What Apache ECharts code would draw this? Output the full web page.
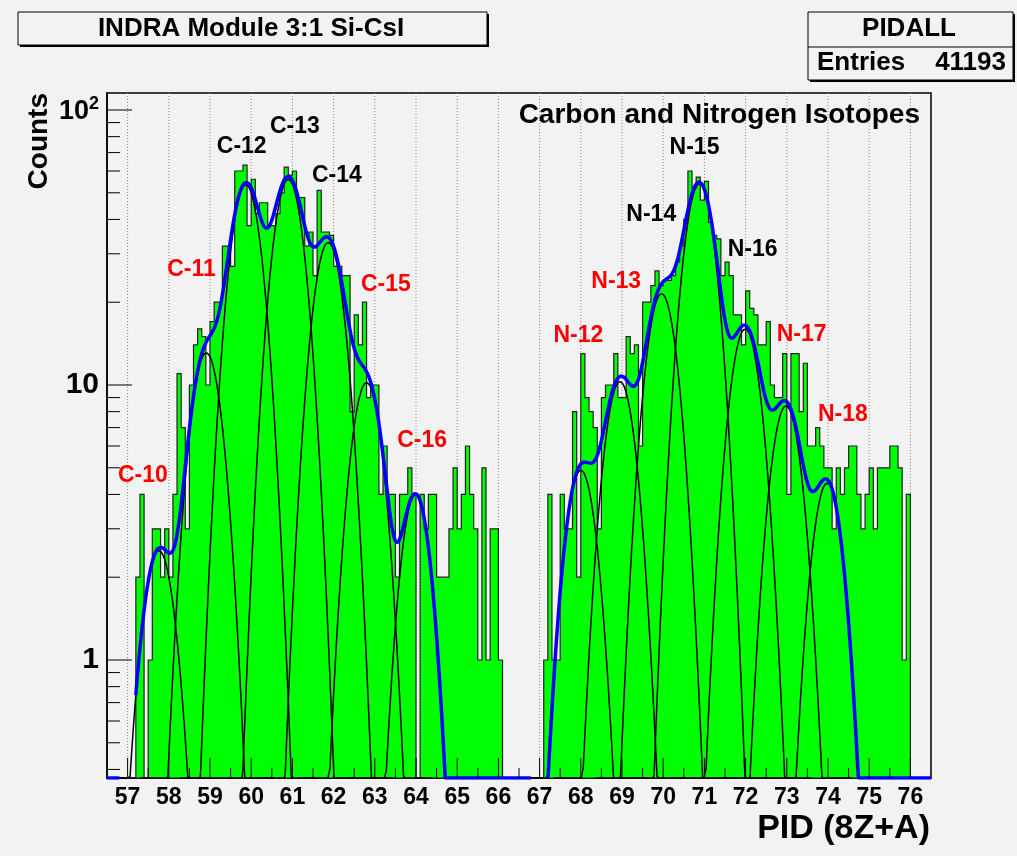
<!DOCTYPE html>
<html>
<head>
<meta charset="utf-8">
<script src="https://cdn.jsdelivr.net/npm/echarts@6/dist/echarts.min.js"></script>
<style>
  html, body { margin: 0; padding: 0; background: #f2f2f2; }
  #chart { width: 1017px; height: 856px; }
</style>
</head>
<body>
<div id="chart"></div>
<script>
// ---- histogram contents: counts per 0.1-wide PID bin ----
const binWidth = 0.1;
// carbon group, first bin starts at 57.0
const carbonStart = 57.0;
const carbonCounts = [
  0, 0, 2, 4, 0, 1, 3, 3, 2, 3,        // 57.0 - 57.9
  2, 4, 11, 7, 3, 10, 14, 16, 15, 10,  // 58.0 - 58.9
  17, 20, 20, 32, 32, 27, 60, 60, 63, 38, // 59.0 - 59.9
  56, 42, 46, 46, 38, 38, 42, 50, 62, 58, // 60.0 - 60.9
  60, 48, 48, 32, 36, 25, 51, 36, 36, 35, // 61.0 - 61.9
  27, 27, 25, 25, 8, 18, 14, 20, 9, 10,   // 62.0 - 62.9
  10, 4, 6, 4, 4, 2, 4, 4, 5, 4,          // 63.0 - 63.9
  0, 4, 3, 4, 4, 2, 2, 2, 3, 5,           // 64.0 - 64.9
  3, 4, 6, 4, 3, 1, 5, 1, 3, 3,           // 65.0 - 65.9
  1                                       // 66.0
];
// nitrogen group, first bin starts at 67.0
const nitrogenStart = 67.0;
const nitrogenCounts = [
  0, 1, 4, 1, 1, 4, 3, 3, 8, 2,           // 67.0 - 67.9
  13, 9, 8, 7, 3, 9, 10, 10, 13, 9,       // 68.0 - 68.9
  9, 15, 13, 14, 6, 20, 20, 23, 26, 23,   // 69.0 - 69.9
  24, 24, 25, 28, 32, 40, 60, 52, 57, 47, // 70.0 - 70.9
  55, 39, 35, 34, 25, 28, 25, 18, 18, 14, // 71.0 - 71.9
  22, 19, 18, 14, 14, 17, 10, 9, 9, 13,   // 72.0 - 72.9
  4, 13, 13, 8, 12, 6, 6, 7, 6, 5,        // 73.0 - 73.9
  5, 3, 5, 4, 5, 6, 6, 4, 3, 4,           // 74.0 - 74.9
  5, 3, 5, 5, 5, 6, 6, 5, 1, 4            // 75.0 - 75.9
];

// ---- gaussian fit components ----
const isotopes   = ['C-10','C-11','C-12','C-13','C-14','C-15','C-16',
                    'N-12','N-13','N-14','N-15','N-16','N-17','N-18'];
const peakMean   = [57.76, 58.91, 59.87, 60.90, 61.87, 62.80, 63.99,
                    68.00, 68.95, 69.96, 70.88, 71.99, 72.98, 73.98];
const peakHeight = [2.5, 13.1, 53.5, 56, 33, 10.2, 4.0,
                    4.9, 10.3, 21.5, 54, 16, 8.4, 4.4];
const peakSigma  = [0.36, 0.35, 0.35, 0.35, 0.35, 0.35, 0.33,
                    0.35, 0.35, 0.35, 0.35, 0.35, 0.35, 0.34];
// ranges on which the summed fit function is drawn
const fitWindows = [[56.5, 56.8], [57.2, 66.8], [67.2, 76.5]];

// ---- isotope annotations (anchor in data coordinates, colour) ----
const labelX     = [57.37, 58.55, 59.77, 61.06, 62.08, 63.27, 64.15,
                    67.94, 68.86, 69.71, 70.76, 72.17, 73.36, 74.36];
const labelY     = [4.7, 26.2, 73.3, 86.7, 57.5, 23.1, 6.3,
                    15.1, 23.7, 41.5, 72.8, 31, 15.2, 7.8];
const labelRed   = [true, true, false, false, false, true, true,
                    true, true, false, false, false, true, true];

// ---- axes ----
const xMin = 56.5, xMax = 76.5;
const yMin = 0.3723, yMax = 115.3;
const xTickLabels = [57,58,59,60,61,62,63,64,65,66,67,68,69,70,71,72,73,74,75,76];
const yMajorTicks = [1, 10, 100];
const yMinorTicks = [0.4,0.5,0.6,0.7,0.8,0.9, 2,3,4,5,6,7,8,9, 20,30,40,50,60,70,80,90];

const sans = '"Liberation Sans", Arial, Helvetica, sans-serif';

function gauss(i, x) {
  const d = x - peakMean[i];
  return peakHeight[i] * Math.exp(-d * d / (2 * peakSigma[i] * peakSigma[i]));
}
function fitSum(x) {
  let s = 0;
  for (let i = 0; i < peakMean.length; i++) s += gauss(i, x);
  return s;
}

// sampled fit curves (values under the axis floor sit on the floor)
const step = 0.01;
const sumCurve = [];
fitWindows.forEach(function (w, k) {
  if (k > 0) sumCurve.push([w[0], null]);
  for (let x = w[0]; x <= w[1] + 1e-9; x += step) {
    sumCurve.push([+x.toFixed(3), Math.max(fitSum(x), yMin)]);
  }
});
const componentSeries = peakMean.map(function (m, i) {
  const pts = [];
  for (let x = m - 1.6; x <= m + 1.6 + 1e-9; x += step) {
    pts.push([+x.toFixed(3), Math.max(gauss(i, x), yMin)]);
  }
  return {
    type: 'line', name: isotopes[i], data: pts, showSymbol: false, symbol: 'none', clip: true,
    lineStyle: { color: '#000', width: 1.5 }, z: 4, silent: true
  };
});

// histogram groups for the custom renderer
const groups = [
  { start: carbonStart, counts: carbonCounts },
  { start: nitrogenStart, counts: nitrogenCounts }
];

function renderHist(params, api) {
  const g = groups[api.value(0)];
  const pts = [];
  const x0 = g.start, x1 = g.start + g.counts.length * binWidth;
  pts.push(api.coord([x0, yMin]));
  g.counts.forEach(function (c, i) {
    const v = Math.max(c, yMin);
    const a = g.start + i * binWidth, b = a + binWidth;
    pts.push(api.coord([a, v]));
    pts.push(api.coord([b, v]));
  });
  pts.push(api.coord([x1, yMin]));
  return {
    type: 'polygon',
    shape: { points: pts },
    style: { fill: '#00ff00', stroke: '#222', lineWidth: 1.2, lineJoin: 'miter' }
  };
}

function renderGrid(params, api) {
  const v = api.value(0);
  const p0 = api.coord([v, yMax]);
  const p1 = api.coord([v, yMin]);
  return {
    type: 'line',
    shape: { x1: p0[0], y1: p0[1], x2: p1[0], y2: p1[1] },
    style: { stroke: '#8a8a8a', lineWidth: 1, lineDash: [1, 2] }
  };
}

// axis ticks drawn inwards from the axes
const tickItems = [];
xTickLabels.forEach(function (v) { tickItems.push(['x', v, 1]); tickItems.push(['x', v + 0.5, 0]); });
yMajorTicks.forEach(function (v) { tickItems.push(['y', v, 1]); });
yMinorTicks.forEach(function (v) { tickItems.push(['y', v, 0]); });

function renderTick(params, api) {
  const t = tickItems[params.dataIndex];
  if (t[0] === 'x') {
    if (t[1] >= xMax) return null;
    const p = api.coord([t[1], yMin]);
    const len = t[2] ? 20 : 10;
    return { type: 'line', shape: { x1: p[0], y1: p[1], x2: p[0], y2: p[1] - len },
             style: { stroke: '#000', lineWidth: 1 } };
  }
  const p = api.coord([xMin, t[1]]);
  const len = t[2] ? 25 : 13;
  return { type: 'line', shape: { x1: p[0], y1: p[1], x2: p[0] + len, y2: p[1] },
           style: { stroke: '#000', lineWidth: 1 } };
}

function renderLabel(params, api) {
  const i = params.dataIndex;
  const p = api.coord([labelX[i], labelY[i]]);
  return {
    type: 'text', x: p[0], y: p[1],
    style: {
      text: isotopes[i], fill: labelRed[i] ? '#ff0000' : '#000000',
      font: 'bold 23px ' + sans, align: 'center', verticalAlign: 'middle'
    }
  };
}

const chart = echarts.init(document.getElementById('chart'), null, { renderer: 'canvas' });

chart.setOption({
  backgroundColor: '#f2f2f2',
  animation: false,
  grid: {
    left: 107, right: 86, top: 93, bottom: 78,
    show: true, borderColor: '#000', borderWidth: 1.5, backgroundColor: '#f2f2f2'
  },
  xAxis: {
    type: 'value', min: xMin, max: xMax, interval: 0.5,
    axisLine: { show: true, lineStyle: { color: '#000', width: 1.5 } },
    axisTick: { show: false },
    splitLine: { show: false },
    axisLabel: {
      margin: 8, color: '#000', fontSize: 23, fontWeight: 'bold', fontFamily: sans,
      showMinLabel: false, showMaxLabel: false,
      formatter: function (v) {
        return Math.abs(v - Math.round(v)) < 1e-6 ? String(Math.round(v)) : '';
      }
    }
  },
  yAxis: {
    type: 'log', logBase: 10, min: yMin, max: yMax,
    axisLine: { show: true, lineStyle: { color: '#000', width: 1.5 } },
    axisTick: { show: false },
    splitLine: { show: false },
    axisLabel: {
      margin: 8, color: '#000', fontSize: 30, fontWeight: 'bold', fontFamily: sans,
      showMinLabel: false, showMaxLabel: false,
      formatter: function (v) {
        if (Math.abs(v - 1) < 1e-6) return '1';
        if (Math.abs(v - 10) < 1e-6) return '10';
        if (Math.abs(v - 100) < 1e-6) return '{b|10}{s|2}';
        return '';
      },
      rich: {
        b: { fontSize: 27, fontWeight: 'bold', fontFamily: sans, color: '#000', lineHeight: 30, verticalAlign: 'bottom' },
        s: { fontSize: 18, fontWeight: 'bold', fontFamily: sans, color: '#000', lineHeight: 30, verticalAlign: 'top', padding: [0, 0, 10, 0] }
      }
    }
  },
  series: [
    {
      type: 'custom', data: xTickLabels.map(function (v) { return [v]; }),
      renderItem: renderGrid, z: 1, silent: true, clip: true
    },
    {
      type: 'custom', data: [[0], [1]], renderItem: renderHist, z: 2, silent: true, clip: true
    }
  ].concat(componentSeries).concat([
    {
      type: 'line', name: 'fit', data: sumCurve, showSymbol: false, symbol: 'none', clip: true,
      connectNulls: false, lineStyle: { color: '#0000ff', width: 3.5 }, z: 5, silent: true
    },
    {
      type: 'custom', data: tickItems.map(function (t, i) { return [i]; }),
      renderItem: renderTick, z: 6, silent: true, clip: false
    },
    {
      type: 'custom', data: isotopes.map(function (t, i) { return [i]; }),
      renderItem: renderLabel, z: 7, silent: true, clip: false
    }
  ]),
  graphic: [
    // pad title box with shadow
    { type: 'rect', shape: { x: 20, y: 14, width: 469, height: 33 }, style: { fill: '#000' }, z: 10 },
    { type: 'rect', shape: { x: 18, y: 12, width: 469, height: 33 },
      style: { fill: '#f2f2f2', stroke: '#000', lineWidth: 1 }, z: 11 },
    { type: 'text', x: 251, y: 29, z: 12,
      style: { text: 'INDRA Module 3:1 Si-CsI', font: 'bold 26px ' + sans,
               fill: '#000', align: 'center', verticalAlign: 'middle' } },
    // statistics box
    { type: 'rect', shape: { x: 810, y: 14, width: 205, height: 68 }, style: { fill: '#000' }, z: 10 },
    { type: 'rect', shape: { x: 808, y: 12, width: 205, height: 68 },
      style: { fill: '#f2f2f2', stroke: '#000', lineWidth: 1 }, z: 11 },
    { type: 'line', shape: { x1: 808, y1: 47, x2: 1013, y2: 47 }, style: { stroke: '#000', lineWidth: 1 }, z: 12 },
    { type: 'text', x: 909, y: 29, z: 12,
      style: { text: 'PIDALL', font: 'bold 26px ' + sans, fill: '#000',
               align: 'center', verticalAlign: 'middle' } },
    { type: 'text', x: 817, y: 63, z: 12,
      style: { text: 'Entries', font: 'bold 26px ' + sans, fill: '#000',
               align: 'left', verticalAlign: 'middle' } },
    { type: 'text', x: 1006, y: 63, z: 12,
      style: { text: '41193', font: 'bold 26px ' + sans, fill: '#000',
               align: 'right', verticalAlign: 'middle' } },
    // plot caption
    { type: 'text', x: 920, y: 115, z: 12,
      style: { text: 'Carbon and Nitrogen Isotopes', font: 'bold 28px ' + sans, fill: '#000',
               align: 'right', verticalAlign: 'middle' } },
    // axis titles
    { type: 'text', x: 39, y: 93, rotation: Math.PI / 2, z: 12,
      style: { text: 'Counts', font: 'bold 28px ' + sans, fill: '#000',
               align: 'right', verticalAlign: 'middle' } },
    { type: 'text', x: 930, y: 829, z: 12,
      style: { text: 'PID (8Z+A)', font: 'bold 34px ' + sans, fill: '#000',
               align: 'right', verticalAlign: 'middle' } }
  ]
});
</script>
</body>
</html>
